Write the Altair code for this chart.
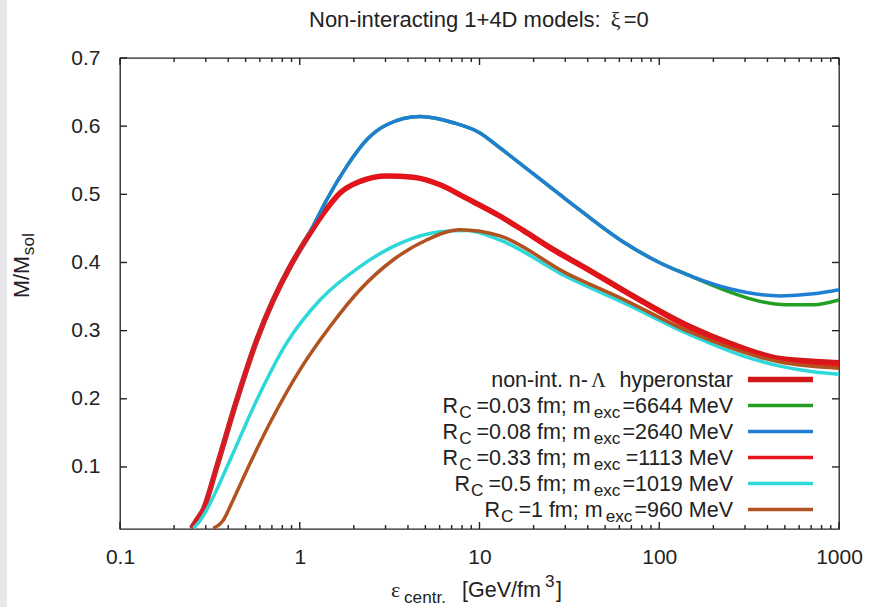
import altair as alt
import pandas as pd

# ---------------- data ----------------
hyp_eps = [0.25, 0.27, 0.29, 0.345, 0.446, 0.576, 0.713, 0.883, 1.093, 1.352, 1.675, 2.164, 3.045,
           4.28, 6.03, 8.49, 13.0, 17.5, 25.0, 37.8, 78.2, 148, 250, 470, 1000]
hyp_m = [0.010, 0.024, 0.037, 0.100, 0.198, 0.286, 0.345, 0.394, 0.435, 0.472, 0.502, 0.519, 0.527,
         0.525, 0.514, 0.494, 0.468, 0.447, 0.421, 0.394, 0.345, 0.306, 0.281, 0.259, 0.253]

r003_eps = [0.25, 0.27, 0.29, 0.345, 0.446, 0.576, 0.713, 0.883, 1.093, 1.25, 1.413, 1.825, 2.358,
            3.045, 4.67, 7.15, 10.06, 13.0, 30.5, 63.1, 100, 150, 200, 250, 307, 512, 720, 1000]
r003_m = [0.010, 0.024, 0.037, 0.100, 0.198, 0.286, 0.345, 0.394, 0.435, 0.465, 0.492, 0.541, 0.580,
          0.602, 0.614, 0.605, 0.590, 0.568, 0.492, 0.430, 0.400, 0.380, 0.366, 0.356, 0.348, 0.338,
          0.338, 0.345]

r008_eps = [0.25, 0.27, 0.29, 0.345, 0.446, 0.576, 0.713, 0.883, 1.093, 1.25, 1.413, 1.825, 2.358,
            3.045, 4.67, 7.15, 10.06, 13.0, 30.5, 63.1, 100, 150, 250, 470, 720, 1000]
r008_m = [0.010, 0.024, 0.037, 0.100, 0.198, 0.286, 0.345, 0.394, 0.435, 0.465, 0.492, 0.541, 0.580,
          0.602, 0.614, 0.605, 0.590, 0.568, 0.492, 0.430, 0.400, 0.380, 0.361, 0.351, 0.354, 0.360]

r033_eps = [0.25, 0.27, 0.29, 0.345, 0.446, 0.576, 0.713, 0.883, 1.093, 1.352, 1.675, 2.164, 3.045,
            4.28, 6.03, 8.49, 13.0, 17.5, 25.0, 37.8, 78.2, 148, 250, 470, 1000]
r033_m = [0.010, 0.024, 0.037, 0.100, 0.198, 0.286, 0.345, 0.394, 0.435, 0.472, 0.502, 0.519, 0.527,
          0.525, 0.514, 0.494, 0.468, 0.446, 0.419, 0.392, 0.343, 0.303, 0.278, 0.256, 0.249]

r05_eps = [0.256, 0.28, 0.3035, 0.409, 0.576, 0.846, 1.296, 2.164, 3.61, 6.03, 8.49, 13.0, 30.5,
           63.1, 148, 300, 470, 700, 1000]
r05_m = [0.010, 0.022, 0.037, 0.110, 0.198, 0.282, 0.345, 0.394, 0.428, 0.445, 0.447, 0.433, 0.379,
         0.341, 0.294, 0.262, 0.248, 0.240, 0.236]

r1_eps = [0.330, 0.3755, 0.42, 0.507, 0.713, 1.0, 1.474, 2.164, 3.315, 5.08, 7.79, 13.0, 30.5,
          63.1, 148, 470, 1000]
r1_m = [0.010, 0.022, 0.048, 0.095, 0.174, 0.242, 0.306, 0.360, 0.404, 0.433, 0.448, 0.439, 0.384,
        0.346, 0.298, 0.254, 0.245]

series_eps = [hyp_eps, r003_eps, r008_eps, r033_eps, r05_eps, r1_eps]
series_m = [hyp_m, r003_m, r008_m, r033_m, r05_m, r1_m]
series_colors = ["#d21818", "#23a023", "#1e7fd4", "#e8121a", "#2fd8d8", "#b25220"]
series_widths = [5.5, 3.5, 3.5, 3.5, 3.5, 3.5]

rc_vals = ["0.03", "0.08", "0.33", "0.5", "1"]
mexc_vals = ["6644", "2640", "1113", "1019", "960"]

x_major = [0.1, 1, 10, 100, 1000]
x_minor = [k * 10.0 ** d for d in (-1, 0, 1, 2) for k in range(2, 10)]
y_ticks = [0.1, 0.2, 0.3, 0.4, 0.5, 0.6, 0.7]

# ---------------- layout ----------------
W, H = 719, 471
PL, PT, PR, PB = 120, 58, 38, 78
FONT = "Liberation Sans"
SERIF = "Liberation Serif"
TXT = "#222222"
FS = 21.5
SUB = 17.2
MAJ, MIN = 7, 4

AW = {' ': 278, '+': 584, '-': 333, '.': 278, '/': 278, ':': 278, ';': 278, '=': 584, '[': 278,
      ']': 278, 'C': 722, 'D': 722, 'G': 778, 'M': 833, 'N': 722, 'R': 722, 'V': 667,
      'a': 556, 'c': 500, 'd': 556, 'e': 556, 'f': 278, 'g': 556, 'h': 556, 'i': 222, 'l': 222,
      'm': 833, 'n': 556, 'o': 556, 'p': 556, 'r': 333, 's': 500, 't': 278, 'x': 500, 'y': 500}


def tw(s, size):
    return sum(AW.get(c, 556) for c in s) / 1000.0 * size


ONE = pd.DataFrame({"k": [0]})

xscale = alt.Scale(type="log", domain=[0.1, 1000], nice=False)
yscale = alt.Scale(domain=[0.009, 0.7], nice=False, zero=False)


def text_at(s, x, y, size, align="left", font=FONT, angle=None):
    props = dict(text=s, align=align, baseline="alphabetic", fontSize=size, font=font, color=TXT)
    if angle is not None:
        props["angle"] = angle
    return alt.Chart(ONE).mark_text(**props).encode(x=alt.value(x - PL), y=alt.value(y - PT))


def hline(x1, x2, y, color, width):
    return alt.Chart(ONE).mark_rule(color=color, strokeWidth=width).encode(
        x=alt.value(x1 - PL), x2=alt.value(x2 - PL), y=alt.value(y - PT))


layers = []

# light grey strip at the far left of the picture
layers.append(alt.Chart(ONE).mark_rect(color="#e8e8e8").encode(
    x=alt.value(-PL), x2=alt.value(7 - PL), y=alt.value(-PT), y2=alt.value(607 - PT)))

# curves
for i, (ex, mm, col, lw) in enumerate(zip(series_eps, series_m, series_colors, series_widths)):
    df = pd.DataFrame({"eps": ex, "M": mm})
    if i == 0:
        xax = alt.Axis(values=x_major, format="~g", ticks=False, domain=False, grid=False,
                       labelFont=FONT, labelFontSize=21, labelColor=TXT, labelPadding=17,
                       labelFlush=False, labelOverlap=False, title=None)
        yax = alt.Axis(values=y_ticks, format=".1f", ticks=False, domain=False, grid=False,
                       labelFont=FONT, labelFontSize=21, labelColor=TXT, labelPadding=20,
                       labelFlush=False, labelOverlap=False, title=None)
    else:
        xax = None
        yax = None
    layers.append(alt.Chart(df).mark_line(color=col, strokeWidth=lw, clip=True,
                                          interpolate="monotone", strokeJoin="round").encode(
        x=alt.X("eps:Q", scale=xscale, axis=xax),
        y=alt.Y("M:Q", scale=yscale, axis=yax)))

# inward tick marks on all four sides (gnuplot style, mirrored)
TW = 1.4
for vals, size in ((x_major, MAJ), (x_minor, MIN)):
    tdf = pd.DataFrame({"t": vals})
    layers.append(alt.Chart(tdf).mark_rule(color=TXT, strokeWidth=TW).encode(
        x=alt.X("t:Q", scale=xscale, axis=None), y=alt.value(H - size), y2=alt.value(H)))
    layers.append(alt.Chart(tdf).mark_rule(color=TXT, strokeWidth=TW).encode(
        x=alt.X("t:Q", scale=xscale, axis=None), y=alt.value(0), y2=alt.value(size)))
ydf = pd.DataFrame({"t": y_ticks})
layers.append(alt.Chart(ydf).mark_rule(color=TXT, strokeWidth=TW).encode(
    y=alt.Y("t:Q", scale=yscale, axis=None), x=alt.value(0), x2=alt.value(MAJ)))
layers.append(alt.Chart(ydf).mark_rule(color=TXT, strokeWidth=TW).encode(
    y=alt.Y("t:Q", scale=yscale, axis=None), x=alt.value(W - MAJ), x2=alt.value(W)))

# title
tx = 309
layers.append(text_at("Non-interacting 1+4D models:", tx, 27, 22))
tx2 = tx + tw("Non-interacting 1+4D models: ", 22) + 4
layers.append(text_at("ξ", tx2, 27, 22, font=SERIF))
layers.append(text_at("=0", tx2 + 13, 27, 22))

# x axis title
layers.append(text_at("ε", 391, 597, 22, font=SERIF))
layers.append(text_at("centr.", 404, 603, SUB))
layers.append(text_at("[GeV/fm", 462, 597, FS))
layers.append(text_at("3", 545, 587, SUB))
layers.append(text_at("]", 556, 597, FS))

# y axis title (rotated)
layers.append(text_at("M/M", 29, 298, FS, angle=270))
layers.append(text_at("sol", 34, 298 - tw("M/M", FS) - 1, SUB, angle=270))

# legend
RIGHT = 733
LX1, LX2 = 748, 813
base0 = 387
step = 26
layers.append(text_at("hyperonstar", RIGHT, base0, FS, align="right"))
layers.append(text_at("Λ", 598.5, base0, 20, align="center", font=SERIF))
layers.append(text_at("non-int. n-", 588, base0, FS, align="right"))
layers.append(hline(LX1, LX2, base0 - 7.5, series_colors[0], 5.5))
for j, (rc, me) in enumerate(zip(rc_vals, mexc_vals)):
    b = base0 + step * (j + 1)
    s5 = "=" + me + " MeV"
    x = RIGHT
    layers.append(text_at(s5, x, b, FS, align="right"))
    x -= tw(s5, FS) + 2
    layers.append(text_at("exc", x, b + 5, SUB, align="right"))
    x -= tw("exc", SUB) + 3
    s3 = "=" + rc + " fm; m"
    layers.append(text_at(s3, x, b, FS, align="right"))
    x -= tw(s3, FS) + 5
    layers.append(text_at("C", x, b + 5, SUB, align="right"))
    x -= tw("C", SUB) + 1
    layers.append(text_at("R", x, b, FS, align="right"))
    layers.append(hline(LX1, LX2, b - 7.5, series_colors[j + 1], 3.5))

chart = alt.layer(*layers).resolve_axis(x="independent", y="independent").properties(
    width=W, height=H,
    padding={"left": PL, "top": PT, "right": PR, "bottom": PB},
    autosize=alt.AutoSizeParams(type="none"),
    background="white",
).configure_view(stroke=TXT, strokeWidth=1.3)

chart.save("out.html", embed_options={"renderer": "svg", "actions": False})
